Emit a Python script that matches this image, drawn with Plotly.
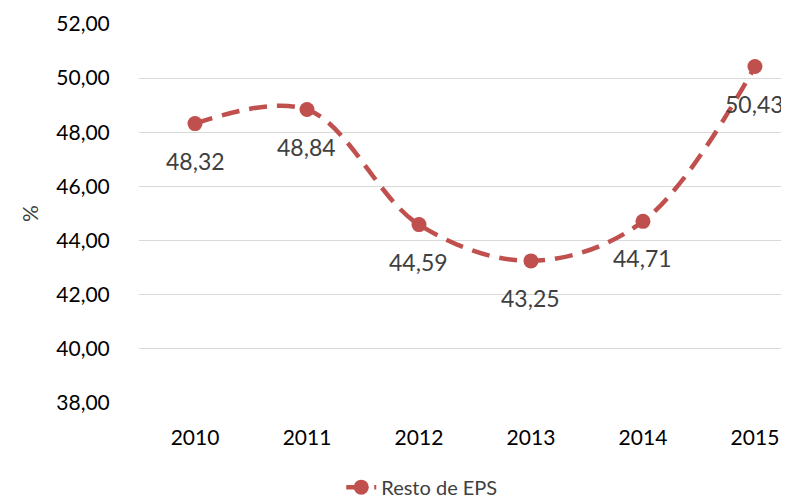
import plotly.graph_objects as go

years = ["2010", "2011", "2012", "2013", "2014", "2015"]
values = [48.32, 48.84, 44.59, 43.25, 44.71, 50.43]
series_name = "Resto de EPS"
y_ticks = [38, 40, 42, 44, 46, 48, 50, 52]

color = "#C0504D"
font_family = "Lato, 'Noto Sans', sans-serif"

fig = go.Figure()
fig.add_trace(go.Scatter(
    x=list(range(len(years))), y=values, mode="lines+markers", name=series_name,
    line=dict(color=color, width=4.5, shape="spline", smoothing=1.0, dash="18px,10px"),
    marker=dict(color=color, size=15),
))

for i, v in enumerate(values):
    fig.add_annotation(x=i, y=v, text=f"{v:.2f}".replace(".", ","), showarrow=False,
                       yshift=-37, font=dict(size=23, color="#404040", family=font_family))

# The page body keeps its default 8px margin, so the figure is sized to fit the window.
fig.update_layout(
    width=781, height=494,
    margin=dict(l=131, r=0, t=16, b=99, autoexpand=False),
    paper_bgcolor="white", plot_bgcolor="white",
    separators=",.",
    font=dict(family=font_family, size=21, color="#000000"),
    showlegend=True,
    legend=dict(orientation="h", x=0.435, xanchor="center", y=-0.222, yanchor="middle",
                font=dict(size=20, color="#404040")),
    xaxis=dict(range=[-0.5, 5.304], tickmode="array", tickvals=list(range(len(years))),
               ticktext=years, showgrid=False, zeroline=False, showline=False, automargin=False,
               ticks="outside", ticklen=16, tickcolor="rgba(0,0,0,0)"),
    yaxis=dict(range=[38, 52], tickmode="array", tickvals=y_ticks, tickformat=".2f",
               showgrid=True, gridcolor="#D9D9D9", gridwidth=1, zeroline=False, showline=False,
               automargin=False,
               ticks="outside", ticklen=24, tickcolor="rgba(0,0,0,0)",
               title=dict(text="%", standoff=11, font=dict(size=21, color="#404040"))),
)

fig.write_html("out.html")
